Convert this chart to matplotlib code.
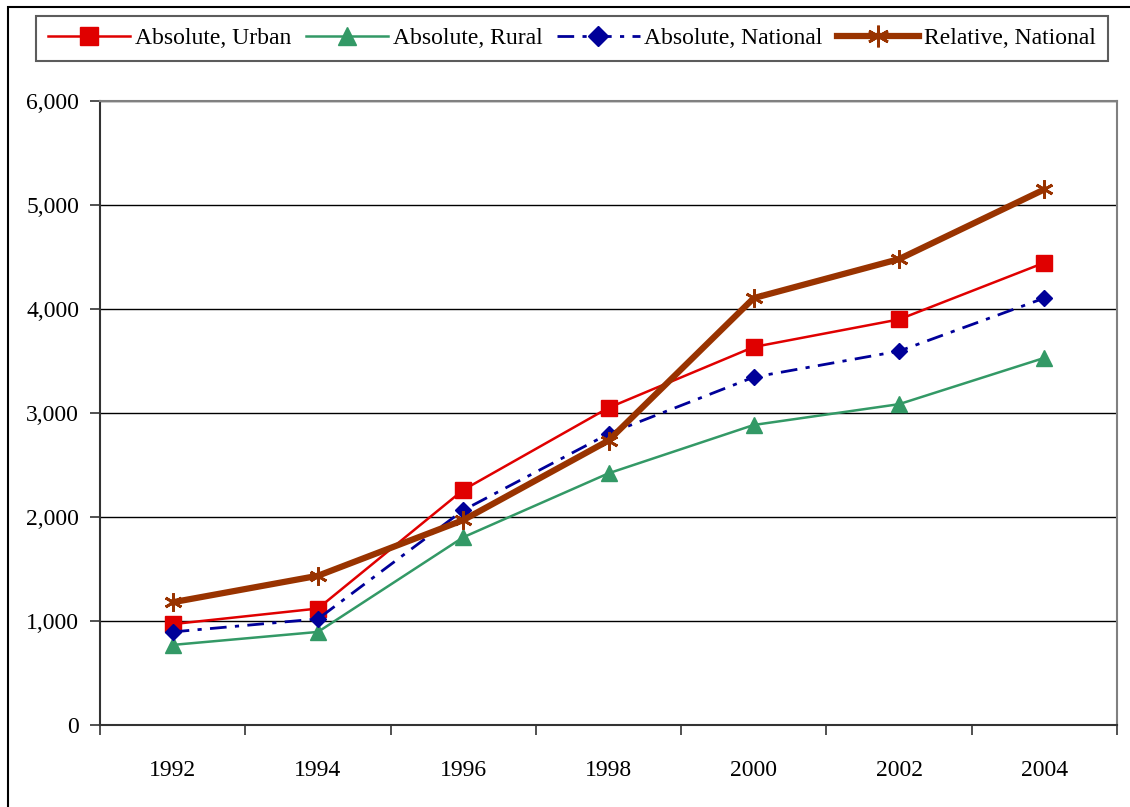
import matplotlib
matplotlib.use("Agg")
import matplotlib.pyplot as plt
from matplotlib.patches import Rectangle
from matplotlib.ticker import FuncFormatter, FixedLocator

plt.rcParams.update({
    "font.family": "serif",
    "font.serif": ["Liberation Serif", "DejaVu Serif"],
    "font.size": 17,
})

years = ["1992", "1994", "1996", "1998", "2000", "2002", "2004"]
abs_urban = [970, 1120, 2260, 3050, 3635, 3900, 4445]
abs_rural = [770, 895, 1805, 2420, 2885, 3085, 3530]
abs_national = [895, 1020, 2065, 2800, 3345, 3595, 4105]
rel_national = [1180, 1435, 1970, 2735, 4105, 4480, 5150]

fig = plt.figure(figsize=(11.3, 8.07), dpi=100)
ax = fig.add_axes([100 / 1130, 1 - 725 / 807, 1017 / 1130, 624 / 807])

# outer frame of the chart area
fig.patches.append(Rectangle((8 / 1130, -0.1), 1.2, 1 - 7 / 807 + 0.1,
                             transform=fig.transFigure, fill=False,
                             edgecolor="black", lw=1.5))

x = list(range(len(years)))
ax.plot(x, abs_urban, color="#E00000", lw=1.8, marker="s", ms=11,
        label="Absolute, Urban", zorder=4)
ax.plot(x, abs_rural, color="#339966", lw=1.8, marker="^", ms=11,
        label="Absolute, Rural", zorder=4)
ax.plot(x, abs_national, color="#000099", lw=2, marker="D", ms=8.5,
        ls=(0, (6, 3, 1.5, 3)), label="Absolute, National", zorder=4)
ax.plot(x, rel_national, color="#993300", lw=4.5, marker=(6, 2, 0), ms=13,
        mew=2, label="Relative, National", zorder=5)

ax.set_xlim(-0.5, len(years) - 0.5)
ax.set_ylim(0, 6000)
ax.set_yticks(range(0, 6001, 1000))
ax.yaxis.set_major_formatter(FuncFormatter(lambda v, p: f"{int(v):,}"))
ax.xaxis.set_major_locator(FixedLocator([i - 0.5 for i in range(len(years) + 1)]))
ax.xaxis.set_minor_locator(FixedLocator(x))
ax.set_xticklabels([])
ax.set_xticklabels(years, minor=True)
ax.tick_params(axis="x", which="major", length=7, width=1.2, color="#333333")
ax.tick_params(axis="x", which="minor", length=0, pad=25)
ax.tick_params(axis="y", length=7, width=1.2, color="#333333", pad=8)
ax.grid(axis="y", color="black", lw=1)
ax.set_axisbelow(True)

for side in ("top", "right"):
    ax.spines[side].set_color("#808080")
    ax.spines[side].set_linewidth(1.5)
for side in ("left", "bottom"):
    ax.spines[side].set_color("#333333")
    ax.spines[side].set_linewidth(1.5)

leg = fig.legend(loc="upper left", bbox_to_anchor=(36 / 1130, 1 - 16 / 807),
                 ncol=4, frameon=True, fancybox=False, edgecolor="#333333",
                 handlelength=3.5, handletextpad=0.2, columnspacing=0.6,
                 borderpad=0.5, borderaxespad=0, fontsize=17, markerscale=1.2)
leg.get_frame().set_linewidth(1.5)

fig.savefig("out.png", dpi=100)
